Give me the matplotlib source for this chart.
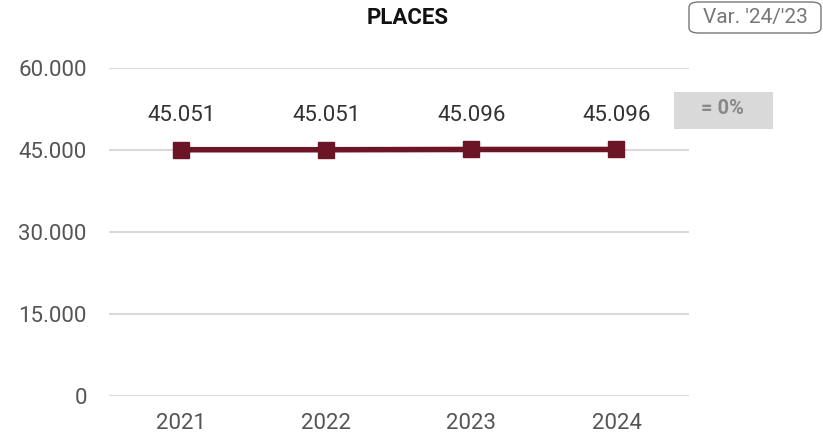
import matplotlib
matplotlib.use("Agg")
import matplotlib.pyplot as plt
from matplotlib.patches import FancyBboxPatch, Rectangle

# data
years = ["2021", "2022", "2023", "2024"]
places = [45051, 45051, 45096, 45096]
yticks = [0, 15000, 30000, 45000, 60000]
variation = "= 0%"

def fmt(v):
    return f"{v:,}".replace(",", ".")

plt.rcParams["font.family"] = ["Roboto", "DejaVu Sans"]

fig = plt.figure(figsize=(8.23, 4.37), dpi=100)
ax = fig.add_axes([109 / 823, 1 - 396 / 437, 580 / 823, 328 / 437])

x = list(range(len(years)))
ax.plot(x, places, color="#6b1527", lw=4, marker="s", ms=11, zorder=3)
for xi, v in zip(x, places):
    ax.annotate(fmt(v), (xi, v), xytext=(0, 17), textcoords="offset points",
                ha="center", va="bottom", fontsize=16, color="#333333")

ax.set_xlim(-0.5, len(years) - 0.5)
ax.set_ylim(0, 60000)
ax.set_yticks(yticks)
ax.set_yticklabels([fmt(t) for t in yticks])
ax.set_xticks(x)
ax.set_xticklabels(years)
ax.tick_params(length=0, labelsize=16, labelcolor="#555555")
ax.tick_params(axis="y", pad=16)
ax.tick_params(axis="x", pad=12)
ax.grid(axis="y", color="#d9d9d9", lw=1.5)
ax.set_axisbelow(True)
for s in ax.spines.values():
    s.set_visible(False)

# title
fig.text(408 / 823, 1 - 18 / 437, "PLACES", ha="center", va="center",
         fontsize=16, fontweight="bold", color="#111111")

# variation header box
box = FancyBboxPatch((689 / 823, 1 - 33 / 437), 132 / 823, 31 / 437,
                     boxstyle="round,pad=0,rounding_size=0.012",
                     transform=fig.transFigure, fc="white", ec="#777777", lw=1)
fig.patches.append(box)
fig.text(755 / 823, 1 - 18 / 437, "Var. '24/'23", ha="center", va="center",
         fontsize=15, color="#777777")

# variation value box
rect = Rectangle((674 / 823, 1 - 129 / 437), 99 / 823, 37 / 437,
                 transform=fig.transFigure, fc="#d9d9d9", ec="none")
fig.patches.append(rect)
fig.text(722 / 823, 1 - 108 / 437, variation, ha="center", va="center",
         fontsize=14.5, fontweight="bold", color="#888888")

fig.savefig("out.png", dpi=100)
